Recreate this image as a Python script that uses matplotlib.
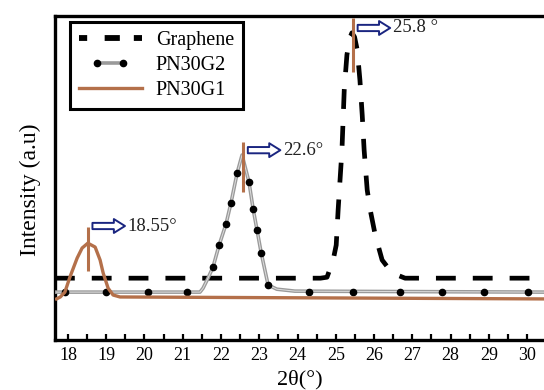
import numpy as np
import matplotlib
matplotlib.use('Agg')
import matplotlib.pyplot as plt
from matplotlib.lines import Line2D
from matplotlib.legend_handler import HandlerLine2D
from matplotlib.ticker import MultipleLocator

plt.rcParams['font.family'] = ['Liberation Serif', 'DejaVu Serif']

# Graphene curve (dashed black)
graphene_x = [17.66, 24.60, 24.77, 24.93, 25.01, 25.06, 25.11, 25.16, 25.19, 25.22, 25.29, 25.36, 25.42,
              25.49, 25.56, 25.63, 25.69, 25.74, 25.82, 25.90, 26.03, 26.21, 26.47, 26.81, 30.44]
graphene_y = [19.1, 19.1, 19.4, 24.7, 29.3, 40.1, 49.4, 58.6, 67.9, 77.2, 88.0, 93.0, 94.8,
              93.5, 89.5, 80.2, 69.4, 58.6, 46.3, 40.1, 32.4, 24.7, 20.7, 19.1, 19.1]

# PN30G2 line (grey) and its dots
g2_x = [17.70, 21.11, 21.45, 21.53, 21.66, 21.79, 21.95, 22.13, 22.26, 22.42, 22.55,
        22.73, 22.84, 22.94, 23.05, 23.23, 23.46, 23.93, 30.44]
g2_y = [14.8, 14.8, 14.8, 16.0, 19.1, 22.5, 29.3, 35.8, 42.3, 51.5, 57.1,
        48.8, 40.4, 34.0, 26.9, 17.0, 15.7, 15.1, 14.8]
g2_dot_x = [17.92, 18.99, 20.09, 21.11, 21.79, 21.95, 22.13, 22.26, 22.42, 22.73, 22.84,
            22.94, 23.05, 23.23, 24.30, 25.45, 26.68, 27.78, 28.88, 30.03]
g2_dot_y = [14.8, 14.8, 14.8, 14.8, 22.5, 29.3, 35.8, 42.3, 51.5, 48.8, 40.4,
            34.0, 26.9, 17.0, 14.8, 14.8, 14.8, 14.8, 14.8, 14.8]

# PN30G1 line (brown)
g1_x = [17.70, 17.80, 17.92, 18.05, 18.24, 18.37, 18.52, 18.71, 18.84, 18.92, 19.05, 19.18, 19.36, 30.44]
g1_y = [12.7, 13.3, 14.8, 19.4, 25.3, 28.4, 29.9, 28.7, 24.7, 20.7, 16.0, 13.9, 13.3, 12.7]

# peak markers and labels
peak_x = [18.52, 22.58, 25.45]
peak_lo = [21.3, 45.7, 82.7]
peak_hi = [34.9, 61.1, 99.4]
arrow_y = [35.2, 58.6, 96.3]
peak_labels = ['18.55°', '22.6°', '25.8 °']

brown = '#b4704a'
navy = '#1a2580'

fig = plt.figure(figsize=(5.44, 3.9), dpi=100)
ax = fig.add_axes([0.101, 0.128, 0.899, 0.831])

ax.plot(graphene_x, graphene_y, color='black', lw=3.4, dashes=(4.2, 3.6), zorder=2)
ax.plot(g2_x, g2_y, color='#9a9a9a', lw=2.6, zorder=3, solid_joinstyle='round')
ax.plot(g2_x, g2_y, color='#dedede', lw=0.7, zorder=3)
ax.plot(g2_dot_x, g2_dot_y, 'o', color='black', ms=4.5, zorder=4)
ax.plot(g1_x, g1_y, color=brown, lw=2.4, zorder=5, solid_joinstyle='round')

for px, lo, hi, ay, lab in zip(peak_x, peak_lo, peak_hi, arrow_y, peak_labels):
    ax.plot([px, px], [lo, hi], color=brown, lw=2.2, solid_capstyle='butt', zorder=6)
    ax.annotate('', xy=(px + 0.97, ay), xytext=(px + 0.12, ay),
                arrowprops=dict(arrowstyle='simple,head_length=0.8,head_width=1.0,tail_width=0.45',
                                fc='white', ec=navy, lw=1.4, mutation_scale=10,
                                shrinkA=0, shrinkB=0), zorder=6)
    ax.text(px + 1.04, ay, lab, fontsize=13.5, va='center', ha='left', color='#222222', zorder=6)

ax.set_xlim(17.66, 30.44)
ax.set_ylim(0, 100)
ax.xaxis.set_major_locator(MultipleLocator(1))
ax.xaxis.set_minor_locator(MultipleLocator(0.5))
ax.tick_params(axis='x', which='both', direction='in', length=4, width=1.6, labelsize=13, pad=5)
ax.tick_params(axis='y', left=False, labelleft=False)
for s in ['left', 'top', 'bottom']:
    ax.spines[s].set_linewidth(2.4)
ax.spines['right'].set_visible(False)

fig.text(30 / 544, 1 - 190 / 390, 'Intensity (a.u)', rotation=90, fontsize=17,
         ha='center', va='center')
fig.text(300 / 544, 1 - 380 / 390, '2θ(°)', fontsize=16, ha='center', va='center')

h_gr = Line2D([], [], color='black', lw=4.2, dashes=(1.4, 3.0, 2.6, 2.4, 1.4, 9))
h_g2 = Line2D([], [], color='#9a9a9a', lw=2.6, marker='o', mfc='black', mec='black', ms=4.5)
h_g1 = Line2D([], [], color=brown, lw=2.4)
leg = ax.legend([h_gr, h_g2, h_g1], ['Graphene', 'PN30G2', 'PN30G1'], loc='upper left',
                bbox_to_anchor=(0.031, 0.981), borderaxespad=0, fontsize=14.5,
                fancybox=False, framealpha=1, edgecolor='black', handlelength=3.1,
                labelspacing=0.28, borderpad=0.45, handletextpad=0.7,
                handler_map={h_g2: HandlerLine2D(numpoints=2, marker_pad=0.9)})
leg.get_frame().set_linewidth(2.2)

plt.savefig('out.png', dpi=100)
